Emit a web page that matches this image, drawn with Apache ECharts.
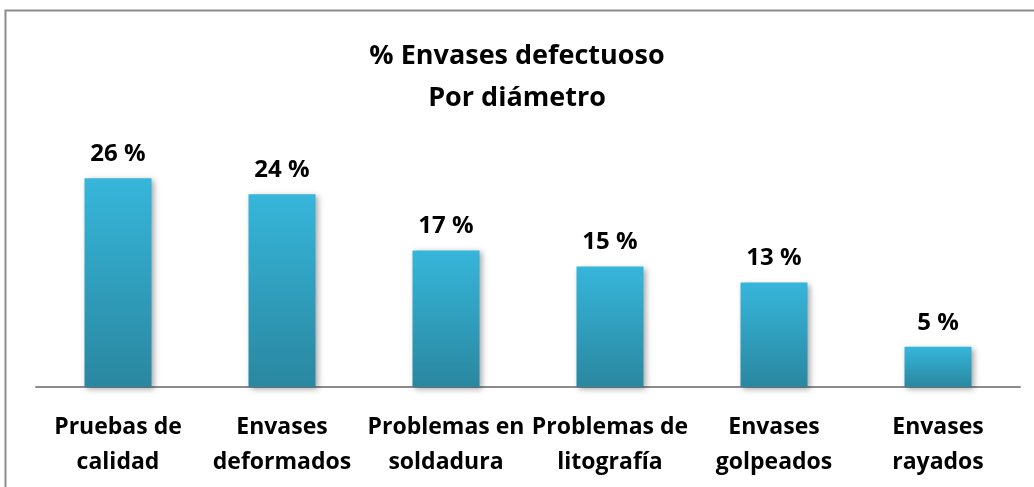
<!DOCTYPE html>
<html>
<head>
<meta charset="utf-8">
<script src="https://cdn.jsdelivr.net/npm/echarts@6/dist/echarts.min.js"></script>
<style>
  html, body { margin: 0; padding: 0; background: #fff; }
  #chart { width: 1034px; height: 487px; }
</style>
</head>
<body>
<div id="chart"></div>
<script>
// datos del grafico
var categories = ['Pruebas de\ncalidad', 'Envases\ndeformados', 'Problemas en\nsoldadura', 'Problemas de\nlitografía', 'Envases\ngolpeados', 'Envases\nrayados'];
var values = [26, 24, 17, 15, 13, 5];

var fontName = 'Open Sans';
var chart = echarts.init(document.getElementById('chart'));

chart.setOption({
  animation: false,
  title: {
    text: '% Envases defectuoso\nPor diámetro',
    left: 'center',
    top: 30,
    textStyle: {
      fontFamily: fontName,
      fontWeight: 'bold',
      fontSize: 27,
      lineHeight: 42,
      color: '#000'
    }
  },
  graphic: [{
    type: 'rect',
    shape: { x: 5.5, y: 10.5, width: 1040, height: 490 },
    style: { fill: 'none', stroke: '#8c8c8c', lineWidth: 2 },
    silent: true
  }],
  grid: {
    left: 36,
    right: 14,
    top: 146,
    bottom: 100
  },
  xAxis: {
    type: 'category',
    data: categories,
    axisTick: { show: false },
    axisLine: { lineStyle: { color: '#8c8c8c', width: 2 } },
    axisLabel: {
      interval: 0,
      margin: 23,
      fontFamily: fontName,
      fontWeight: 'bold',
      fontSize: 23,
      lineHeight: 35,
      color: '#000'
    }
  },
  yAxis: {
    type: 'value',
    min: 0,
    max: 30,
    show: false
  },
  series: [{
    type: 'bar',
    data: values,
    barWidth: 67,
    itemStyle: {
      color: new echarts.graphic.LinearGradient(0, 0, 0, 1, [
        { offset: 0, color: '#36b6da' },
        { offset: 1, color: '#2a87a0' }
      ]),
      shadowColor: 'rgba(0,0,0,0.35)',
      shadowBlur: 6,
      shadowOffsetX: 2,
      shadowOffsetY: 2
    },
    label: {
      show: true,
      position: 'top',
      distance: 12,
      formatter: '{c} %',
      fontFamily: fontName,
      fontWeight: 'bold',
      fontSize: 24,
      color: '#000'
    }
  }]
});
</script>
</body>
</html>
